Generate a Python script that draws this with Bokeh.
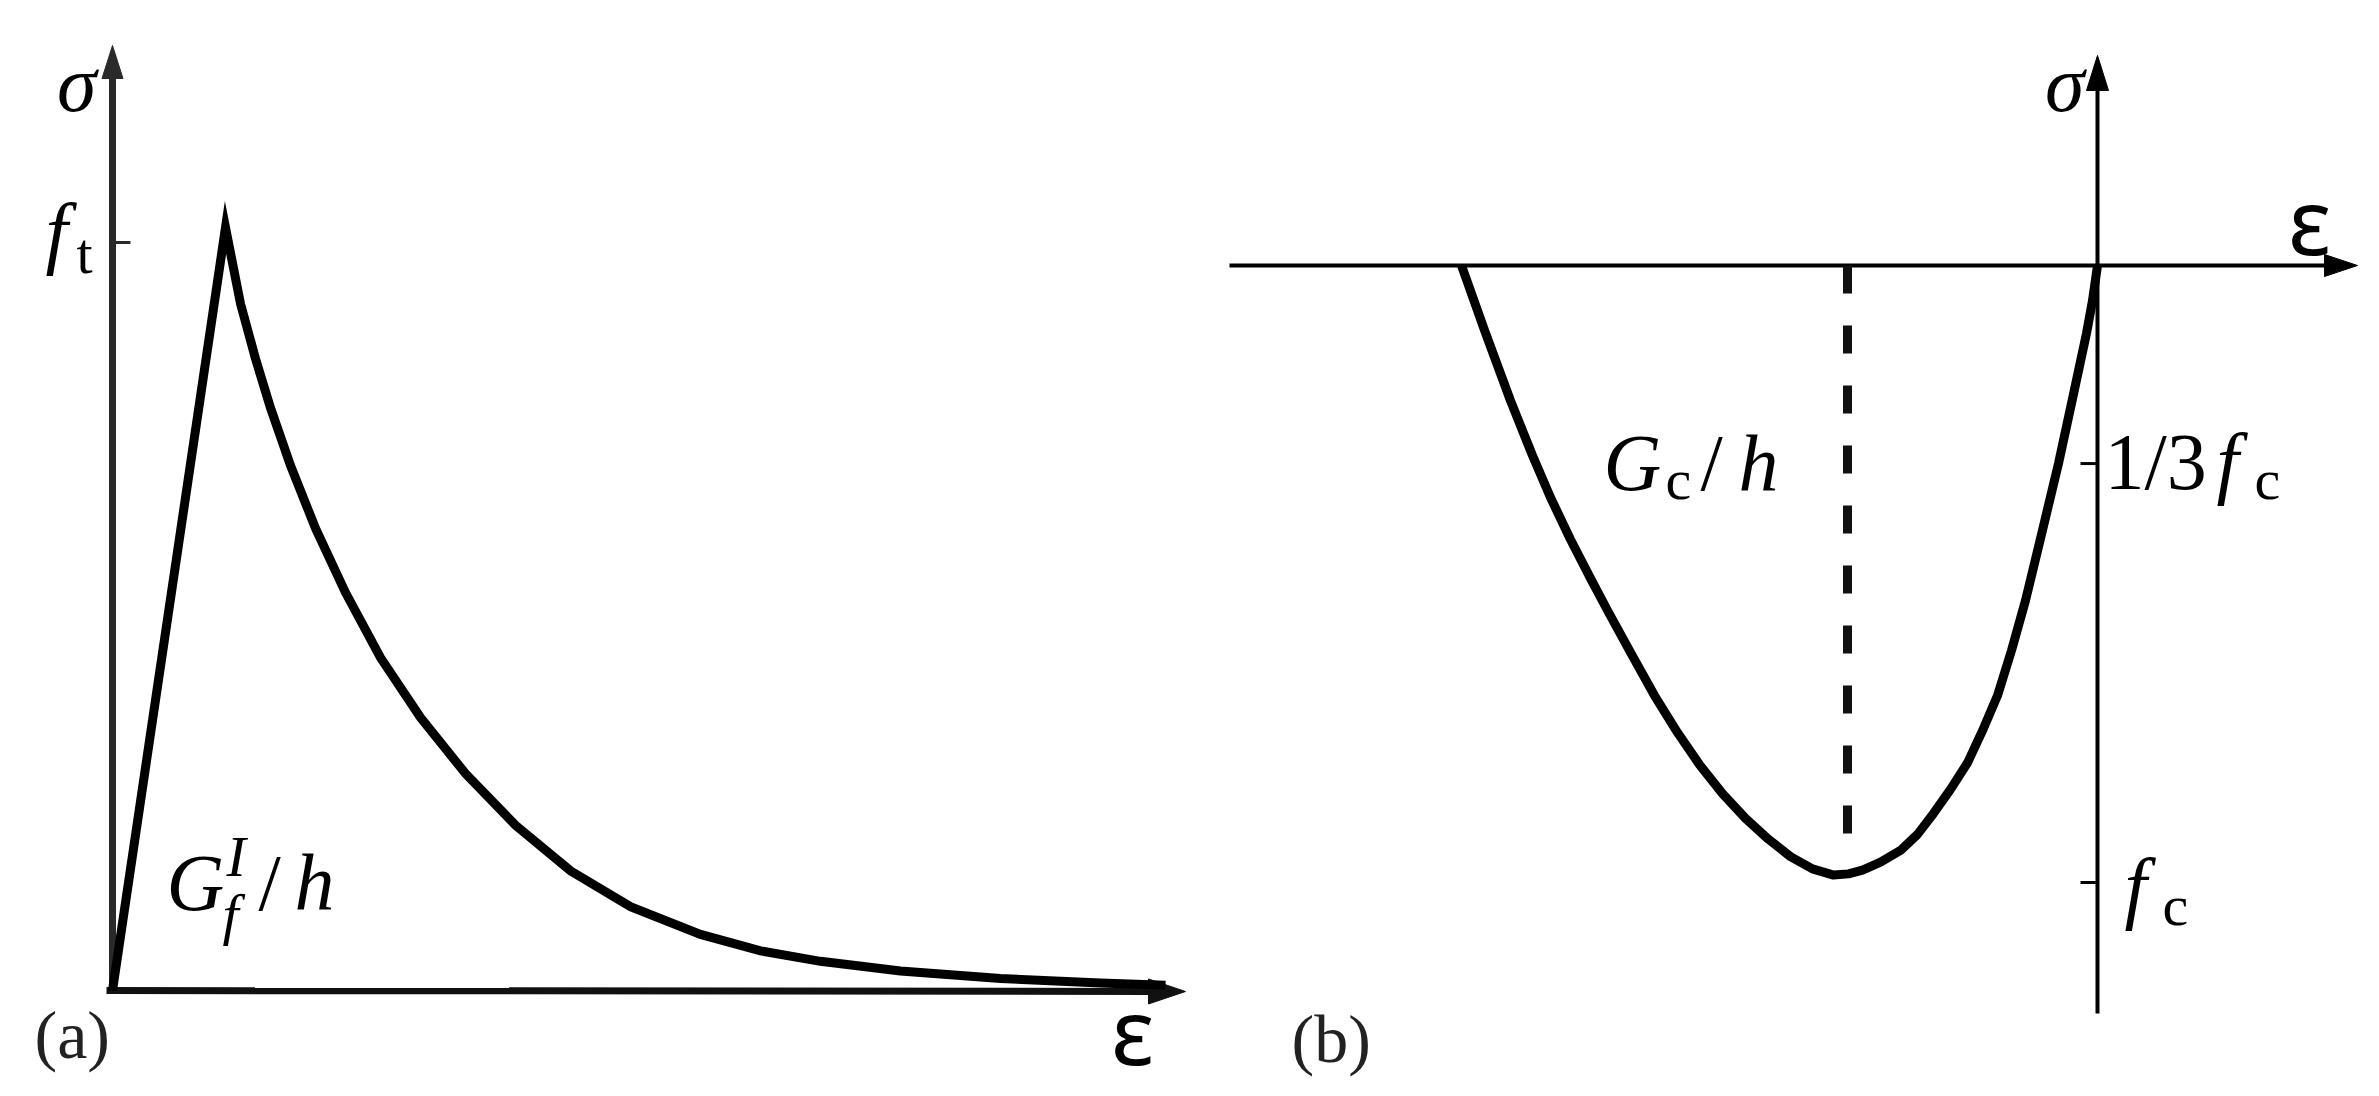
from bokeh.plotting import figure
from bokeh.layouts import row
from bokeh.models import Range1d
from bokeh.core.properties import value
from bokeh.embed import file_html
from bokeh.resources import INLINE

# ---------------- data (schematic units) ----------------
# (a) tension: strain / peak strain, stress / f_t
tension_strain = [0.0, 1.000, 1.133, 1.265, 1.398, 1.575, 1.796, 2.062, 2.372,
                  2.726, 3.124, 3.566, 4.053, 4.584, 5.204, 5.735, 6.265,
                  6.973, 7.858, 8.743, 9.319]
tension_stress = [0.0, 1.020, 0.918, 0.845, 0.779, 0.702, 0.618, 0.532, 0.445,
                  0.365, 0.290, 0.221, 0.160, 0.112, 0.075, 0.053, 0.039,
                  0.026, 0.016, 0.010, 0.007]
tension_tick = [1.0]

# (b) compression: strain / strain at f_c, stress / f_c
comp_strain = [-2.544, -2.452, -2.348, -2.260, -2.188, -2.108, -2.028, -1.956,
               -1.868, -1.772, -1.680, -1.592, -1.500, -1.408, -1.316, -1.228,
               -1.140, -1.056, -0.996, -0.940, -0.868, -0.788, -0.720, -0.656,
               -0.588, -0.520, -0.460, -0.400, -0.344, -0.288, -0.220, -0.156,
               -0.100, -0.044, -0.020, 0.0]
comp_stress = [0.0, -0.105, -0.219, -0.308, -0.376, -0.444, -0.507, -0.562,
               -0.627, -0.697, -0.757, -0.809, -0.856, -0.896, -0.930, -0.958,
               -0.978, -0.988, -0.986, -0.980, -0.967, -0.948, -0.922, -0.888,
               -0.849, -0.806, -0.754, -0.697, -0.624, -0.543, -0.429, -0.321,
               -0.216, -0.110, -0.057, 0.0]
comp_peak_strain = [-1.0]
comp_peak_line_stress = [0.0, -0.924]
comp_ticks = [-0.321, -1.0]

# ---------------- layout / style ----------------
SERIF = "Liberation Serif"
EPS_FONT = "Noto Sans"
MAIN = 80
SUB = 58
BASE_SHIFT = 0.32   # text baseline correction (fraction of font size)

# pixel calibration of the two panels (page pixels)
TOP, BOTTOM = 0, 1092
A = dict(ox=112, oy=990, sx=113.0, sy=748.0, left=0, right=1200)
B = dict(ox=2097, oy=265, sx=250.0, sy=617.0, left=1200, right=2375)


def make_fig(c):
    p = figure(width=c["right"] - c["left"], height=BOTTOM - TOP,
               x_range=Range1d((c["left"] - c["ox"]) / c["sx"], (c["right"] - c["ox"]) / c["sx"]),
               y_range=Range1d((c["oy"] - BOTTOM) / c["sy"], (c["oy"] - TOP) / c["sy"]),
               output_backend="svg", toolbar_location=None,
               min_border=0, min_border_left=0, min_border_right=0,
               min_border_top=0, min_border_bottom=0)
    p.axis.visible = False
    p.grid.visible = False
    p.outline_line_color = None
    p.background_fill_color = "white"
    p.border_fill_color = "white"
    return p


def px(c, X, Y):
    return (X - c["ox"]) / c["sx"], (c["oy"] - Y) / c["sy"]


def arrow(p, c, x0, y0, x1, y1, lw, head_len, head_w, color):
    # x/y in data units; head sizes in pixels
    dxp = (x1 - x0) * c["sx"]
    dyp = (y1 - y0) * c["sy"]
    n = (dxp ** 2 + dyp ** 2) ** 0.5
    ux, uy = dxp / n, dyp / n
    bx = x1 - ux * head_len / c["sx"]
    by = y1 - uy * head_len / c["sy"]
    p.line([x0, bx], [y0, by], line_width=lw, line_color=color, line_cap="butt")
    wx = -uy * head_w / 2 / c["sx"]
    wy = ux * head_w / 2 / c["sy"]
    p.patch([x1, bx + wx, bx - wx], [y1, by + wy, by - wy],
            fill_color=color, line_color=color, line_width=1)


def txt(p, x, y, s, size, italic=False, align="left", font=SERIF, color="black"):
    p.text(x=[x], y=[y], text=[s], text_font=value(font),
           text_font_size=f"{size}px",
           text_font_style="italic" if italic else "normal",
           text_align=align, text_baseline="alphabetic", text_color=color,
           y_offset=-BASE_SHIFT * size)


# ---------------- panel (a) ----------------
pa = make_fig(A)
ax_color = "#2a2a2a"
arrow(pa, A, 0, 0, *px(A, 112, 45), 7, 33, 21, ax_color)
arrow(pa, A, *px(A, 106, 990), *px(A, 1185, 991), 7, 37, 25, "#111111")
for t in tension_tick:
    pa.line([0, px(A, 130, 0)[0]], [t, t], line_width=3, line_color=ax_color)
pa.line(tension_strain, tension_stress, line_width=9, line_color="black",
        line_join="miter")

txt(pa, *px(A, 96, 109), "σ", MAIN, italic=True, align="right")
txt(pa, *px(A, 45, 257), "f", MAIN, italic=True)
txt(pa, *px(A, 76, 272), "t", SUB)
txt(pa, *px(A, 166, 908), "G", MAIN, italic=True)
txt(pa, *px(A, 226, 875), "I", SUB, italic=True)
txt(pa, *px(A, 222, 933), "f", SUB, italic=True)
txt(pa, *px(A, 258, 908), "/", MAIN)
txt(pa, *px(A, 294, 907), "h", MAIN, italic=True)
txt(pa, *px(A, 34, 1056), "(a)", 68, color="#222222")
txt(pa, *px(A, 1132, 1058), "ε", 92, align="center", font=EPS_FONT)

# ---------------- panel (b) ----------------
pb = make_fig(B)
arrow(pb, B, *px(B, 1229, 265), *px(B, 2357, 265), 4, 33, 22, "black")
arrow(pb, B, *px(B, 2097, 1013), *px(B, 2097, 55), 4, 35, 22, "black")
for t in comp_ticks:
    pb.line([px(B, 2080, 0)[0], 0], [t, t], line_width=3, line_color="black")
pb.line(comp_peak_strain * 2, comp_peak_line_stress, line_width=9,
        line_color="#111111", line_dash="28 32")
pb.line(comp_strain, comp_stress, line_width=9, line_color="black",
        line_join="round")

txt(pb, *px(B, 2084, 109), "σ", MAIN, italic=True, align="right")
txt(pb, *px(B, 2309, 248), "ε", 92, align="center", font=EPS_FONT)
txt(pb, *px(B, 2104, 487), "1/3", MAIN)
txt(pb, *px(B, 2216, 487), "f", MAIN, italic=True)
txt(pb, *px(B, 2254, 498), "c", SUB)
txt(pb, *px(B, 2124, 912), "f", MAIN, italic=True)
txt(pb, *px(B, 2162, 924), "c", SUB)
txt(pb, *px(B, 1603, 488), "G", MAIN, italic=True)
txt(pb, *px(B, 1665, 498), "c", SUB)
txt(pb, *px(B, 1700, 488), "/", MAIN)
txt(pb, *px(B, 1738, 488), "h", MAIN, italic=True)
txt(pb, *px(B, 1291, 1060), "(b)", 68, color="#222222")

layout = row(pa, pb, spacing=0)
open("out.html", "w").write(file_html(layout, INLINE))
